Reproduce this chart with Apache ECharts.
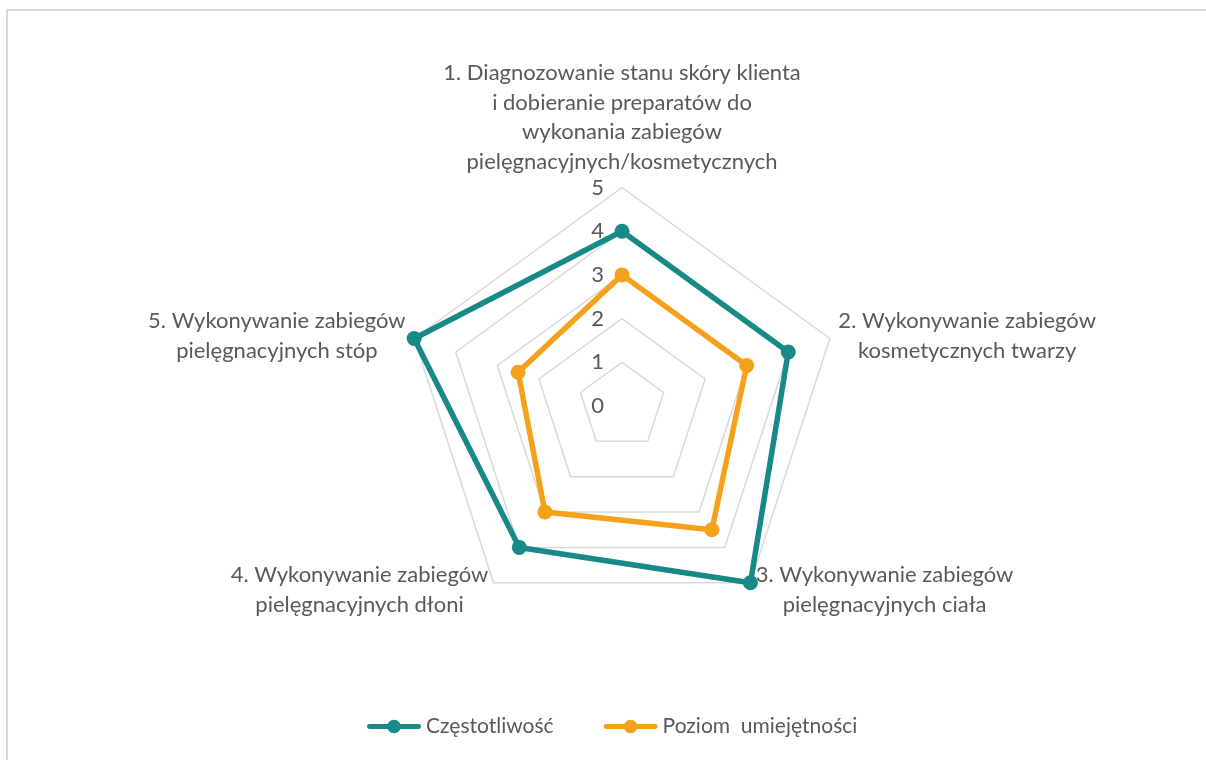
<!DOCTYPE html>
<html lang="pl">
<head>
    <meta charset="utf-8" />
    <title>Radar</title>
    <script src="https://cdn.jsdelivr.net/npm/echarts@6/dist/echarts.min.js"></script>
    <style>
        html, body { margin: 0; padding: 0; background: #fff; }
        #frame {
            position: absolute; left: 6px; top: 9px; width: 1220px; height: 780px;
            border-top: 2px solid #d9d9d9; border-left: 2px solid #d9d9d9;
        }
        #main { position: absolute; left: 0; top: 0; width: 1206px; height: 760px; }
    </style>
</head>
<body>
    <div id="frame"></div>
    <div id="main"></div>
    <script>
        // dane (kolejność jak na wykresie, zgodnie z ruchem wskazówek zegara)
        var categories = [
            '1. Diagnozowanie stanu skóry klienta\ni dobieranie preparatów do\nwykonania zabiegów\npielęgnacyjnych/kosmetycznych',
            '2. Wykonywanie zabiegów\nkosmetycznych twarzy',
            '3. Wykonywanie zabiegów\npielęgnacyjnych ciała',
            '4. Wykonywanie zabiegów\npielęgnacyjnych dłoni',
            '5. Wykonywanie zabiegów\npielęgnacyjnych stóp'
        ];
        var czestotliwosc = [4, 4, 5, 4, 5];
        var umiejetnosci = [3, 3, 3.5, 3, 2.5];
        var seriesNames = ['Częstotliwość', 'Poziom  umiejętności'];
        var axisMax = 5;

        var font = 'Lato';
        var fs = 22;
        var txt = '#595959';
        var teal = '#178a87';
        var orange = '#f6a11a';

        // ECharts rysuje osie przeciwnie do ruchu wskazówek - odwracamy kolejność (bez pierwszej)
        function cw(arr) { return [arr[0]].concat(arr.slice(1).reverse()); }

        var indicators = cw(categories).map(function (c, i) {
            var ind = { name: c, min: 0, max: axisMax };
            if (i === 0) ind.axisLabel = { show: true };
            return ind;
        });

        var legendIcon = 'path://M2,4.5 L52,4.5 A2.5,2.5 0 0 1 52,9.5 L2,9.5 A2.5,2.5 0 0 1 2,4.5 Z M27,0 A7,7 0 1 1 26.99,0 Z';

        var chart = echarts.init(document.getElementById('main'));
        var option = {
            animation: false,
            textStyle: { fontFamily: font },
            legend: {
                bottom: 18,
                left: 362,
                itemWidth: 54,
                itemHeight: 14,
                itemGap: 50,
                textStyle: { color: txt, fontSize: 21, fontFamily: font },
                data: seriesNames.map(function (n) { return { name: n, icon: legendIcon }; })
            },
            radar: {
                center: [622, 406],
                radius: 218.5,
                startAngle: 90,
                shape: 'polygon',
                splitNumber: 5,
                nameGap: 9,
                axisName: {
                    color: txt,
                    fontSize: fs,
                    fontFamily: font,
                    lineHeight: 29.5,
                    formatter: function (v) {
                        return v.split('\n').map(function (s) { return '{c|' + s + '}'; }).join('\n');
                    },
                    rich: {
                        c: { align: 'center', color: txt, fontSize: fs, fontFamily: font, lineHeight: 29.5 }
                    }
                },
                axisLine: { show: false },
                axisTick: { show: false },
                axisLabel: { show: false, color: txt, fontSize: fs, fontFamily: font, margin: 18 },
                splitLine: { lineStyle: { color: '#d9d9d9', width: 1.5 } },
                splitArea: { show: false },
                indicator: indicators
            },
            series: [{
                type: 'radar',
                symbol: 'circle',
                symbolSize: 15,
                data: [
                    {
                        name: seriesNames[0],
                        value: cw(czestotliwosc),
                        lineStyle: { color: teal, width: 5.5 },
                        itemStyle: { color: teal }
                    },
                    {
                        name: seriesNames[1],
                        value: cw(umiejetnosci),
                        lineStyle: { color: orange, width: 5.5 },
                        itemStyle: { color: orange }
                    }
                ]
            }]
        };
        chart.setOption(option);
    </script>
</body>
</html>
